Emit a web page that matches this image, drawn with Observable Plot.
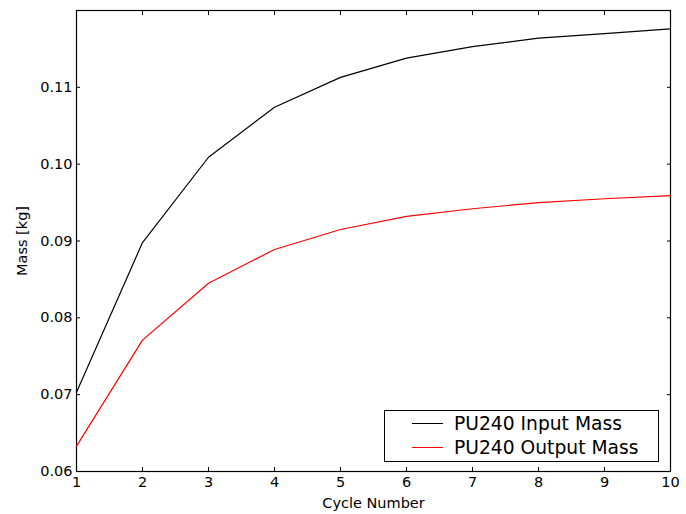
<!DOCTYPE html>
<html>
<head>
<meta charset="utf-8">
<script src="https://cdn.jsdelivr.net/npm/d3@7"></script>
<script src="https://cdn.jsdelivr.net/npm/@observablehq/plot@0.6"></script>
<style>
  html, body { margin: 0; padding: 0; background: #fff; }
  #wrap { position: relative; width: 686px; height: 514px; font-family: "DejaVu Sans", sans-serif; }
  #legend { position: absolute; left: 384px; top: 410px; width: 273px; height: 50px; border: 1px solid #000; background: #fff; font-size: 18.7px; }
  .row { position: absolute; left: 0; height: 24px; display: flex; align-items: center; }
  .sw { width: 31px; height: 0; margin-left: 27px; margin-right: 11px; }
</style>
</head>
<body>
<div id="wrap"></div>
<script>
const cycles = [1, 2, 3, 4, 5, 6, 7, 8, 9, 10];
const inputMass = [0.0703, 0.0898, 0.1009, 0.1074, 0.1113, 0.1138, 0.1153, 0.1164, 0.1170, 0.1176];
const outputMass = [0.0633, 0.0771, 0.0845, 0.0889, 0.0915, 0.0932, 0.0942, 0.0950, 0.0955, 0.0959];
const seriesNames = ["PU240 Input Mass", "PU240 Output Mass"];
const seriesColors = ["#000000", "#ff0000"];
const xTicks = [1, 2, 3, 4, 5, 6, 7, 8, 9, 10];
const yTicks = [0.06, 0.07, 0.08, 0.09, 0.10, 0.11];

const data = [];
cycles.forEach((c, i) => {
  data.push({cycle: c, mass: inputMass[i], series: seriesNames[0]});
  data.push({cycle: c, mass: outputMass[i], series: seriesNames[1]});
});

const chart = Plot.plot({
  width: 686,
  height: 514,
  marginLeft: 76,
  marginRight: 16,
  marginTop: 10,
  marginBottom: 43,
  style: {fontFamily: "DejaVu Sans, sans-serif", fontSize: "14.5px", color: "#000", background: "#fff"},
  x: {domain: [1, 10]},
  y: {domain: [0.06, 0.12]},
  color: {domain: seriesNames, range: seriesColors},
  marks: [
    Plot.frame({stroke: "#000", strokeWidth: 1.2}),
    Plot.axisX({anchor: "bottom", ticks: xTicks, tickSize: -4, tickPadding: 9, tickFormat: d3.format("d"), label: "Cycle Number", labelAnchor: "center", labelOffset: 36, labelArrow: "none", fontSize: 14.5}),
    Plot.axisX({anchor: "top", ticks: xTicks, tickSize: -4, tickFormat: () => "", label: null}),
    Plot.axisY({anchor: "left", ticks: yTicks, tickSize: -4, tickPadding: 8, tickFormat: d3.format(".2f"), label: "Mass [kg]", labelAnchor: "center", labelOffset: 60, labelArrow: "none", fontSize: 14.5}),
    Plot.axisY({anchor: "right", ticks: yTicks, tickSize: -4, tickFormat: () => "", label: null}),
    Plot.line(data, {x: "cycle", y: "mass", z: "series", stroke: "series", strokeWidth: 1.2})
  ]
});
const wrap = document.getElementById("wrap");
wrap.appendChild(chart);

const legend = document.createElement("div");
legend.id = "legend";
seriesNames.forEach((name, i) => {
  const row = document.createElement("div");
  row.className = "row";
  row.style.top = (i === 0 ? 0 : 24) + "px";
  const sw = document.createElement("div");
  sw.className = "sw";
  sw.style.borderTop = "1.2px solid " + seriesColors[i];
  const t = document.createElement("span");
  t.textContent = name;
  row.appendChild(sw);
  row.appendChild(t);
  legend.appendChild(row);
});
wrap.appendChild(legend);
</script>
</body>
</html>
